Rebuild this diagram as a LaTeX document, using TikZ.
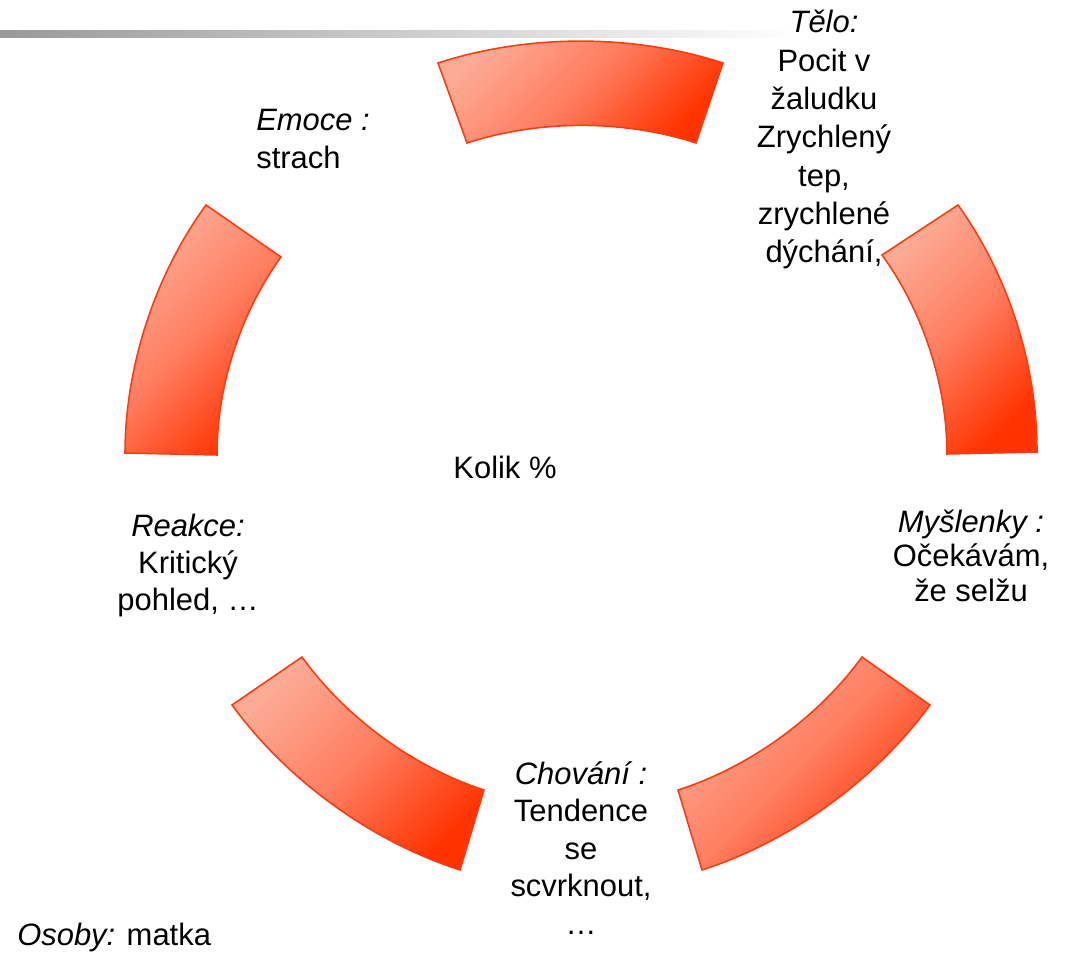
\documentclass[tikz,border=0pt]{standalone}
\usepackage{fontspec}
\setmainfont{Liberation Sans}
\usepackage{tikz}
\usetikzlibrary{positioning}
\definecolor{cycred}{RGB}{255,51,0}
\definecolor{cycmid}{RGB}{255,125,95}
\definecolor{cyclight}{RGB}{252,172,150}
\definecolor{cycedge}{RGB}{255,58,16}
\definecolor{bargray}{RGB}{153,153,153}
\tikzstyle{segment} = [draw=cycedge, line width=1.1pt, top color=cyclight, bottom color=cycred, middle color=cycmid, shading angle=45]
\tikzstyle{arcout} = [bend left=18, looseness=0.85]
\tikzstyle{arcin} = [bend right=18, looseness=0.85]
\tikzstyle{cycletext} = [inner sep=0pt, align=center, font=\fontsize{22}{27.3}\selectfont]

\begin{document}
\begin{tikzpicture}[x=0.025cm, y=-0.025cm]
\useasboundingbox (0,0) rectangle (1068,953);
% Bar
\shade[left color=bargray, middle color=bargray!40, right color=white] (0,31) rectangle (800,37.5);

% Segments
\draw[segment] (438,63) to[arcout] (723,63) -- (696,143) to[arcin] (467,143) -- cycle;
\draw[segment] (958,205) to[arcout] (1037,452) -- (947,454) to[arcin] (882,255) -- cycle;
\draw[segment] (930,705) to[arcout] (702,870) -- (678,790) to[arcin] (862,657) -- cycle;
\draw[segment] (460,870) to[arcout] (232,705) -- (302,657) to[arcin] (484,790) -- cycle;
\draw[segment] (125,453) to[arcout] (206,205) -- (281,257) to[arcin] (217,455) -- cycle;

% Labels (anchored at the baseline of the last line)
\node (telo) [cycletext, anchor=base] at (824,263) {\textit{Tělo:}\\Pocit v\\žaludku\\Zrychlený\\tep,\\zrychlené\\dýchání,};
\node (myslenky) [cycletext, anchor=base, font=\fontsize{22}{24.2}\selectfont] at (971,601) {\textit{Myšlenky :}\\Očekávám,\\že selžu};
\node (chovani) [cycletext, anchor=base, font=\fontsize{22}{26.6}\selectfont] at (581,934) {\textit{Chování :}\\Tendence\\se\\scvrknout,\\…};
\node (reakce) [cycletext, anchor=base, font=\fontsize{22}{26.3}\selectfont] at (188,610) {\textit{Reakce:}\\Kritický\\pohled, …};
\node (emoce) [cycletext, anchor=base west, align=left] at (256,169) {\textit{Emoce :}\\strach};

% Centre and persons
\node (kolik) [cycletext, anchor=base] at (505,478) {Kolik \%};
\node (osoby) [cycletext, anchor=base west] at (17,945) {\textit{Osoby:} matka};
\end{tikzpicture}
\end{document}
